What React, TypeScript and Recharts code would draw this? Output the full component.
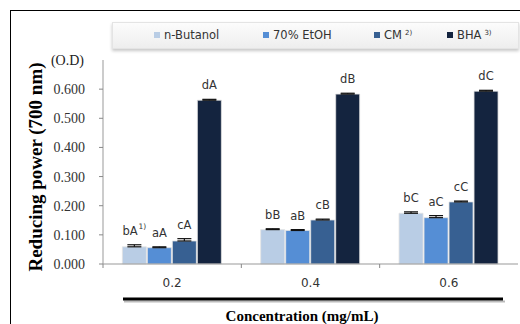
import React from "react";
import { Bar, BarChart, ErrorBar, Label, LabelList, XAxis, YAxis } from "recharts";

const concentrations = ["0.2", "0.4", "0.6"];
const butanol = [0.059, 0.118, 0.174];
const etoh = [0.056, 0.115, 0.159];
const cm = [0.079, 0.151, 0.213];
const bha = [0.562, 0.583, 0.593];
const butanolErr = [0.007, 0.003, 0.005];
const etohErr = [0.003, 0.003, 0.007];
const cmErr = [0.008, 0.003, 0.003];
const bhaErr = [0.003, 0.003, 0.003];
const butanolLetters = ["bA", "bB", "bC"];
const etohLetters = ["aA", "aB", "aC"];
const cmLetters = ["cA", "cB", "cC"];
const bhaLetters = ["dA", "dB", "dC"];
const butanolNotes = ["1)", "", ""];
const yTicks = [0, 0.1, 0.2, 0.3, 0.4, 0.5, 0.6];

const SANS = "'DejaVu Sans', Verdana, sans-serif";
const SERIF = "'Liberation Serif', 'Times New Roman', serif";

const series = [
  { key: "butanol", name: "n-Butanol", sup: "", color: "#b9cde5", values: butanol, errors: butanolErr, letters: butanolLetters, notes: butanolNotes },
  { key: "etoh", name: "70% EtOH", sup: "", color: "#558ed5", values: etoh, errors: etohErr, letters: etohLetters, notes: ["", "", ""] },
  { key: "cm", name: "CM", sup: "2)", color: "#376092", values: cm, errors: cmErr, letters: cmLetters, notes: ["", "", ""] },
  { key: "bha", name: "BHA", sup: "3)", color: "#14243f", values: bha, errors: bhaErr, letters: bhaLetters, notes: ["", "", ""] },
];

const data = concentrations.map((conc, i) => {
  const row: Record<string, any> = { conc };
  series.forEach((s) => {
    row[s.key] = s.values[i];
    row[s.key + "Err"] = [0, s.errors[i]];
  });
  return row;
});

const legendLeft = [154, 263, 374, 447];

function makeLabel(s: (typeof series)[number]) {
  return (p: any) => {
    const { x, y, width, height, index } = p;
    const v = s.values[index];
    const errPx = v ? (s.errors[index] * height) / v : 0;
    const note = s.notes[index];
    return (
      <text
        x={x + width / 2}
        y={y - 10 - errPx}
        textAnchor="middle"
        fontFamily={SANS}
        fontSize={11.5}
        fill="#333"
      >
        {s.letters[index]}
        {note ? (
          <tspan fontSize={7.5} dy={-6} dx={1}>
            {note}
          </tspan>
        ) : null}
      </text>
    );
  };
}

function XTick(props: any) {
  const { x, y, payload } = props;
  const off = payload?.offset ?? 69;
  return (
    <g>
      <line x1={x - off} x2={x - off} y1={y} y2={y + 4} stroke="#888" />
      <text x={x} y={y + 23} textAnchor="middle" fontFamily={SANS} fontSize={12} fill="#333">
        {payload.value}
      </text>
    </g>
  );
}

function YLabel(props: any) {
  const vb = props.viewBox ?? { x: 0, y: 60, width: 103, height: 204 };
  const cy = vb.y + vb.height / 2 + 5;
  return (
    <g>
      <text
        x={35}
        y={cy}
        transform={`rotate(-90 35 ${cy})`}
        textAnchor="middle"
        dominantBaseline="central"
        fontFamily={SERIF}
        fontWeight="bold"
        fontSize={19}
        fill="#000"
      >
        Reducing power (700 nm)
      </text>
      <text x={84} y={vb.y + 5} textAnchor="end" fontFamily={SERIF} fontSize={14} fill="#222">
        (O.D)
      </text>
    </g>
  );
}

function XLabel(props: any) {
  const vb = props.viewBox ?? { x: 103, y: 264, width: 415, height: 60 };
  const ly = vb.y + 35;
  return (
    <g>
      <line x1={vb.x + 21} x2={vb.x + vb.width - 13} y1={ly + 2.5} y2={ly + 2.5} stroke="#bbb" strokeWidth={2} />
      <line x1={vb.x + 20} x2={vb.x + vb.width - 15} y1={ly} y2={ly} stroke="#000" strokeWidth={3} />
      <text x={302} y={vb.y + 57} textAnchor="middle" fontFamily={SERIF} fontWeight="bold" fontSize={15} fill="#000">
        Concentration (mg/mL)
      </text>
    </g>
  );
}

export default function App() {
  return (
    <div style={{ position: "absolute", left: 0, top: 0, width: 520, height: 324, background: "#fff" }}>
      <div
        style={{
          position: "absolute",
          left: 10,
          top: 10,
          width: 520,
          height: 330,
          borderTop: "1.5px solid #000",
          borderLeft: "1.5px solid #000",
        }}
      />
      <div
        style={{
          position: "absolute",
          left: 112,
          top: 22,
          width: 405,
          height: 25,
          background: "linear-gradient(#fcfcfc, #eeeeee)",
          border: "1px solid #e4e4e4",
          boxShadow: "0 2px 3px rgba(0,0,0,0.22)",
          fontFamily: SANS,
          fontSize: 11.5,
          color: "#333",
        }}
      >
        {series.map((s, i) => (
          <div
            key={s.key}
            style={{ position: "absolute", left: legendLeft[i] - 113, top: 5, display: "flex", alignItems: "center", whiteSpace: "nowrap" }}
          >
            <span style={{ display: "inline-block", width: 6, height: 6, background: s.color, marginRight: 4 }} />
            <span>{s.name}</span>
            {s.sup ? <sup style={{ fontSize: 7, marginLeft: 3, position: "relative", top: -2 }}>{s.sup}</sup> : null}
          </div>
        ))}
      </div>
      <div style={{ position: "absolute", left: 0, top: 0 }}>
        <BarChart
          width={520}
          height={324}
          data={data}
          margin={{ top: 60, right: 2, left: 0, bottom: 0 }}
          barCategoryGap="14%"
          barGap={1}
        >
          <XAxis
            dataKey="conc"
            height={60}
            axisLine={{ stroke: "#999" }}
            tickLine={false}
            tickSize={0}
            tickMargin={0}
            tick={<XTick />}
            interval={0}
          >
            <Label content={<XLabel />} />
          </XAxis>
          <XAxis xAxisId="top" dataKey="conc" orientation="top" height={0} tick={false} tickLine={false} axisLine={{ stroke: "#000" }} />
          <YAxis
            width={103}
            domain={[0, 0.7]}
            ticks={yTicks}
            tickFormatter={(v: number) => v.toFixed(3)}
            axisLine={{ stroke: "#999" }}
            tickLine={{ stroke: "#888" }}
            tickSize={4}
            tickMargin={14}
            tick={{ fontFamily: SERIF, fontSize: 14, fill: "#333" }}
          >
            <Label content={<YLabel />} />
          </YAxis>
          <YAxis yAxisId="right" orientation="right" width={0} domain={[0, 0.7]} tick={false} tickLine={false} axisLine={{ stroke: "#000" }} />
          {series.map((s) => (
            <Bar key={s.key} dataKey={s.key} name={s.name} fill={s.color} stroke="#e2e2e2" strokeWidth={0.8} isAnimationActive={false}>
              <ErrorBar dataKey={s.key + "Err"} direction="y" width={7} stroke="#111" strokeWidth={1.2} />
              <LabelList dataKey={s.key} content={makeLabel(s)} />
            </Bar>
          ))}
        </BarChart>
      </div>
    </div>
  );
}
